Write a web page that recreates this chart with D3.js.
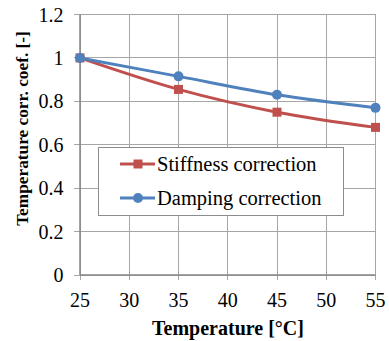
<!DOCTYPE html>
<html><head><meta charset="utf-8">
<script src="https://cdn.jsdelivr.net/npm/d3@7"></script>
<style>body{margin:0;background:#fff}svg{display:block}
text{font-family:"Liberation Serif","Times New Roman",Tinos,"DejaVu Serif",serif;fill:#000}</style>
</head><body>
<svg id="c" width="389" height="341"></svg>
<script>
const temps = [25, 35, 45, 55];
const stiffness = [1, 0.855, 0.75, 0.68];
const damping = [1, 0.915, 0.83, 0.77];
const xTicks = [25, 30, 35, 40, 45, 50, 55];
const yTicks = [0, 0.2, 0.4, 0.6, 0.8, 1, 1.2];
const seriesNames = ["Stiffness correction", "Damping correction"];

const svg = d3.select("#c");
const x = d3.scaleLinear().domain([25, 55]).range([80, 375.5]);
const y = d3.scaleLinear().domain([0, 1.2]).range([275, 14.5]);
const grid = "#a6a6a6";

// grid
svg.append("g").selectAll("line").data(xTicks).join("line")
  .attr("x1", d => x(d)).attr("x2", d => x(d)).attr("y1", y(1.2)).attr("y2", y(0) + 5)
  .attr("stroke", grid).attr("stroke-width", 1).attr("shape-rendering", "crispEdges");
svg.append("g").selectAll("line").data(yTicks).join("line")
  .attr("x1", x(25) - 6).attr("x2", x(55)).attr("y1", d => y(d)).attr("y2", d => y(d))
  .attr("stroke", grid).attr("stroke-width", 1).attr("shape-rendering", "crispEdges");
// axes lines
svg.append("line").attr("x1", x(25)).attr("x2", x(25)).attr("y1", y(1.2)).attr("y2", y(0))
  .attr("stroke", "#868686").attr("stroke-width", 1.5);
svg.append("line").attr("x1", x(25)).attr("x2", x(55)).attr("y1", y(0)).attr("y2", y(0))
  .attr("stroke", "#868686").attr("stroke-width", 1.5);

// tick labels
svg.append("g").selectAll("text").data(yTicks).join("text")
  .attr("x", 63.5).attr("y", d => y(d)).attr("dy", "0.35em").attr("text-anchor", "end")
  .attr("font-size", 20).text(d => d3.format("~g")(d));
svg.append("g").selectAll("text").data(xTicks).join("text")
  .attr("x", d => x(d)).attr("y", 306.5).attr("text-anchor", "middle")
  .attr("font-size", 20).text(d => d);

// titles
svg.append("text").attr("x", 228).attr("y", 335).attr("text-anchor", "middle")
  .attr("font-size", 20).attr("font-weight", "bold").text("Temperature [°C]");
svg.append("text").attr("transform", `translate(28,128.5) rotate(-90)`)
  .attr("text-anchor", "middle").attr("font-size", 17.3).attr("font-weight", "bold")
  .text("Temperature corr. coef. [-]");

const colors = ["#c0504d", "#4f81bd"];
const line = d3.line().x((d, i) => x(temps[i])).y(d => y(d)).curve(d3.curveCatmullRom.alpha(0.5));

[stiffness, damping].forEach((s, k) => {
  svg.append("path").datum(s).attr("d", line).attr("fill", "none")
    .attr("stroke", colors[k]).attr("stroke-width", 3);
});
// markers
svg.append("g").selectAll("rect").data(stiffness).join("rect")
  .attr("x", (d, i) => x(temps[i]) - 4.5).attr("y", d => y(d) - 4.5).attr("width", 9).attr("height", 9)
  .attr("fill", colors[0]);
svg.append("g").selectAll("circle").data(damping).join("circle")
  .attr("cx", (d, i) => x(temps[i])).attr("cy", d => y(d)).attr("r", 5)
  .attr("fill", colors[1]);

// legend
const lg = svg.append("g");
lg.append("rect").attr("x", 98.5).attr("y", 147.5).attr("width", 245).attr("height", 68)
  .attr("fill", "#fff").attr("stroke", "#8c8c8c").attr("stroke-width", 1);
const ly = [164, 198];
seriesNames.forEach((n, k) => {
  const g = lg.append("g");
  g.append("line").attr("x1", 120).attr("x2", 155).attr("y1", ly[k]).attr("y2", ly[k])
    .attr("stroke", colors[k]).attr("stroke-width", 3);
  if (k === 0) g.append("rect").attr("x", 133.5).attr("y", ly[k] - 4.5).attr("width", 9).attr("height", 9).attr("fill", colors[k]);
  else g.append("circle").attr("cx", 138).attr("cy", ly[k]).attr("r", 5).attr("fill", colors[k]);
  g.append("text").attr("x", 157).attr("y", ly[k]).attr("dy", "0.35em")
    .attr("font-size", 20.5).text(n);
});
</script>
</body></html>
